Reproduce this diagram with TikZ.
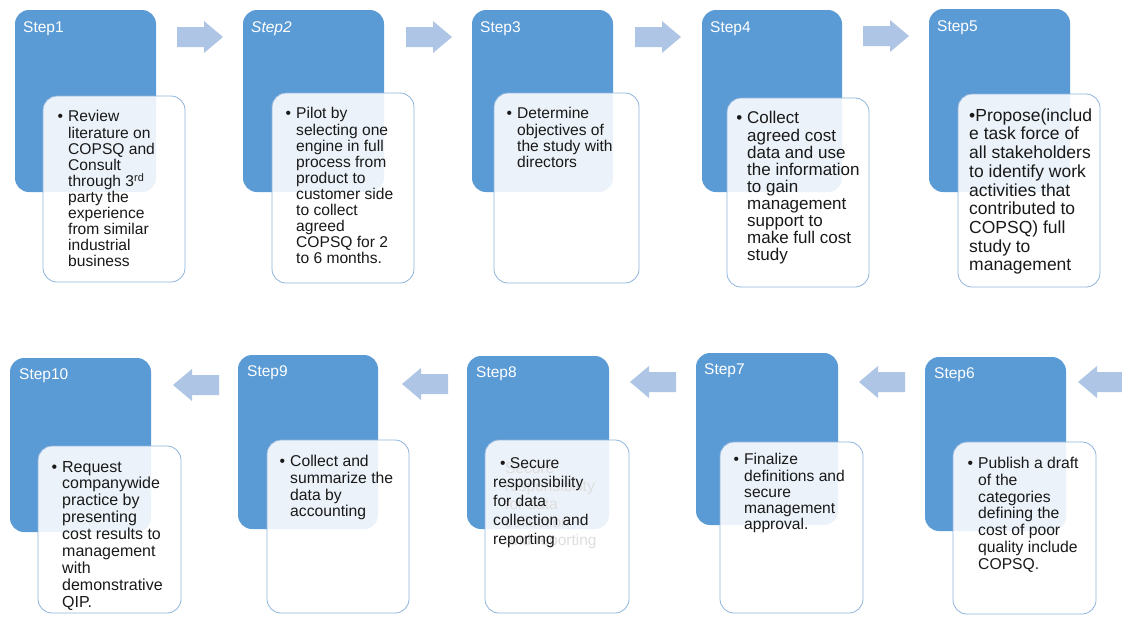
\documentclass[tikz,border=0pt]{standalone}
\usepackage{fontspec}
\setmainfont{Liberation Sans}
\definecolor{stepblue}{RGB}{91,155,213}
\definecolor{arrowblue}{RGB}{174,197,229}
\definecolor{cardedge}{RGB}{143,180,219}
\definecolor{ghostgray}{RGB}{222,222,222}
\definecolor{bodytext}{RGB}{25,25,25}
\newcommand\bul{\llap{\textbullet\hspace{5pt}}}
\tikzset{
  stepbox/.style={fill=stepblue, draw=none, rounded corners=14pt, inner sep=0pt, outer sep=0pt, anchor=north west},
  card/.style={fill=white, fill opacity=0.88, draw=cardedge, line width=0.8pt, rounded corners=14pt, inner sep=0pt, outer sep=0pt, anchor=north west},
  steplabel/.style={anchor=north west, inner sep=0pt, text=white, font=\fontsize{15.5}{16}\selectfont},
  cardtext/.style={anchor=north west, inner sep=0pt, align=left, text=bodytext, font=\fontsize{15.6}{16}\selectfont},
  rarrow/.pic={\fill[arrowblue] (-46,-10) -- (-19,-10) -- (-19,-16) -- (0,0) -- (-19,16) -- (-19,10) -- (-46,10) -- cycle;},
  larrow/.pic={\fill[arrowblue] (46,-10) -- (19,-10) -- (19,-16) -- (0,0) -- (19,16) -- (19,10) -- (46,10) -- cycle;},
}
\begin{document}
\begin{tikzpicture}[x=1pt, y=-1pt]
\clip (0,0) rectangle (1122,616);
\fill[white] (0,0) rectangle (1122,616);

% ---- top row: steps 1 to 5 ----
\node[stepbox, minimum width=141pt, minimum height=182pt] (s1) at (15,10) {};
\node[stepbox, minimum width=141pt, minimum height=182pt] (s2) at (243,10) {};
\node[stepbox, minimum width=141pt, minimum height=182pt] (s3) at (472,10) {};
\node[stepbox, minimum width=140pt, minimum height=182pt] (s4) at (702,10) {};
\node[stepbox, minimum width=141pt, minimum height=183pt] (s5) at (929,9) {};

\node[steplabel] (l1) at ([xshift=8pt,yshift=-11pt]s1.north west) {\strut Step1};
\node[steplabel] (l2) at ([xshift=8pt,yshift=-11pt]s2.north west) {\strut\itshape Step2};
\node[steplabel] (l3) at ([xshift=8pt,yshift=-11pt]s3.north west) {\strut Step3};
\node[steplabel] (l4) at ([xshift=8pt,yshift=-11pt]s4.north west) {\strut Step4};
\node[steplabel] (l5) at ([xshift=8pt,yshift=-11pt]s5.north west) {\strut Step5};

\node[card, minimum width=142pt, minimum height=186pt] (c1) at (43,96) {};
\node[card, minimum width=142pt, minimum height=190pt] (c2) at (272,93) {};
\node[card, minimum width=145pt, minimum height=190pt] (c3) at (494,93) {};
\node[card, minimum width=142pt, minimum height=189pt] (c4) at (727,98) {};
\node[card, minimum width=142pt, minimum height=193pt] (c5) at (958,94) {};

\node[cardtext] (t1) at ([xshift=25pt,yshift=-14pt]c1.north west)
  {\strut\bul Review\\literature on\\COPSQ and\\Consult\\through 3\textsuperscript{rd}\\party the\\experience\\from similar\\industrial\\business};
\node[cardtext] (t2) at ([xshift=24pt,yshift=-14pt]c2.north west)
  {\strut\bul Pilot by\\selecting one\\engine in full\\process from\\product to\\customer side\\to collect\\agreed\\COPSQ for 2\\to 6 months.};
\node[cardtext] (t3) at ([xshift=23pt,yshift=-14pt]c3.north west)
  {\strut\bul Determine\\objectives of\\the study with\\directors};
\node[cardtext, font=\fontsize{17}{16.9}\selectfont] (t4) at ([xshift=20pt,yshift=-13pt]c4.north west)
  {\strut\bul Collect\\agreed cost\\data and use\\the information\\to gain\\management\\support to\\make full cost\\study};
\node[cardtext, font=\fontsize{17.5}{18.7}\selectfont] (t5) at ([xshift=11pt,yshift=-14pt]c5.north west)
  {\strut\textbullet Propose(includ\\e task force of\\all stakeholders\\to identify work\\activities that\\contributed to\\COPSQ) full\\study to\\management};

% ---- bottom row: steps 6 to 10 ----
\node[stepbox, minimum width=141pt, minimum height=174pt] (s6) at (925,357) {};
\node[stepbox, minimum width=142pt, minimum height=172pt] (s7) at (696,353) {};
\node[stepbox, minimum width=142pt, minimum height=173pt] (s8) at (467,356) {};
\node[stepbox, minimum width=140pt, minimum height=174pt] (s9) at (238,355) {};
\node[stepbox, minimum width=141pt, minimum height=174pt] (s10) at (10,358) {};

\node[steplabel] (l6) at ([xshift=9pt,yshift=-10pt]s6.north west) {\strut Step6};
\node[steplabel] (l7) at ([xshift=8pt,yshift=-10pt]s7.north west) {\strut Step7};
\node[steplabel] (l8) at ([xshift=9pt,yshift=-10pt]s8.north west) {\strut Step8};
\node[steplabel] (l9) at ([xshift=9pt,yshift=-10pt]s9.north west) {\strut Step9};
\node[steplabel] (l10) at ([xshift=9pt,yshift=-10pt]s10.north west) {\strut Step10};

\node[card, minimum width=143pt, minimum height=172pt] (c6) at (953,442) {};
\node[card, minimum width=143pt, minimum height=171pt] (c7) at (720,442) {};
\node[card, minimum width=144pt, minimum height=173pt] (c8) at (485,440) {};
\node[card, minimum width=142pt, minimum height=173pt] (c9) at (267,440) {};
\node[card, minimum width=143pt, minimum height=167pt] (c10) at (38,446) {};

\node[cardtext, font=\fontsize{15.7}{16.7}\selectfont] (t6) at ([xshift=25pt,yshift=-15pt]c6.north west)
  {\strut\bul Publish a draft\\of the\\categories\\defining the\\cost of poor\\quality include\\COPSQ.};
\node[cardtext] (t7) at ([xshift=24pt,yshift=-11pt]c7.north west)
  {\strut\bul Finalize\\definitions and\\secure\\management\\approval.};
% faint duplicate lines left behind the text of step 8
\node[cardtext, text=ghostgray, font=\fontsize{15.5}{18}\selectfont] (g8) at ([xshift=20pt,yshift=-21pt]c8.north west)
  {\strut Secure\\responsibility\\for data\\collection\\and reporting};
\node[cardtext, font=\fontsize{15.6}{19}\selectfont] (t8) at ([xshift=8pt,yshift=-15pt]c8.north west)
  {\strut\hspace{7pt}\textbullet\ Secure\\responsibility\\for data\\collection and\\reporting};
\node[cardtext, font=\fontsize{15.7}{16.7}\selectfont] (t9) at ([xshift=23pt,yshift=-15pt]c9.north west)
  {\strut\bul Collect and\\summarize the\\data by\\accounting};
\node[cardtext, font=\fontsize{16}{16.9}\selectfont] (t10) at ([xshift=24pt,yshift=-14pt]c10.north west)
  {\strut\bul Request\\companywide\\practice by\\presenting\\cost results to\\management\\with\\demonstrative\\QIP.};

% ---- block arrows between the steps ----
\pic at (223,37) {rarrow};
\pic at (452,37) {rarrow};
\pic at (681,37) {rarrow};
\pic at (909,36) {rarrow};
\pic at (1078,382) {larrow};
\pic at (859,382) {larrow};
\pic at (630,382) {larrow};
\pic at (402,384) {larrow};
\pic at (173,385) {larrow};
\end{tikzpicture}
\end{document}
